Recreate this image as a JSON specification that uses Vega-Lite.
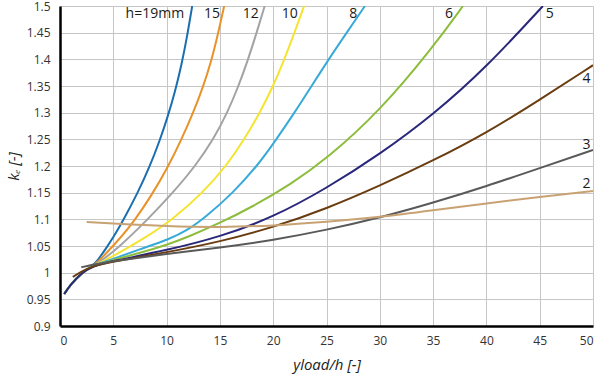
{
  "$schema": "https://vega.github.io/schema/vega-lite/v6.json",
  "width": 533,
  "height": 320,
  "autosize": "none",
  "padding": {"left": 60, "top": 6, "right": 7, "bottom": 48},
  "background": "white",
  "config": {
    "view": {"stroke": null},
    "font": "Open Sans",
    "axis": {"labelFont": "Open Sans", "titleFont": "Open Sans", "labelColor": "#333333", "titleColor": "#222222", "gridColor": "#c6c6c6", "gridWidth": 1, "ticks": false, "domainColor": "#000000", "domainWidth": 2.5, "labelOverlap": false}
  },
  "datasets": {
    "curves": [
      {"h": "19", "x": 0.4, "y": 0.96}, {"h": "19", "x": 1, "y": 0.978}, {"h": "19", "x": 2, "y": 0.999}, {"h": "19", "x": 3, "y": 1.012}, {"h": "19", "x": 3.5, "y": 1.022}, {"h": "19", "x": 4.3, "y": 1.045}, {"h": "19", "x": 5, "y": 1.066}, {"h": "19", "x": 5.9, "y": 1.097}, {"h": "19", "x": 7.3, "y": 1.15}, {"h": "19", "x": 8.4, "y": 1.198}, {"h": "19", "x": 9.4, "y": 1.25}, {"h": "19", "x": 10.1, "y": 1.292}, {"h": "19", "x": 10.8, "y": 1.34}, {"h": "19", "x": 11.4, "y": 1.39}, {"h": "19", "x": 11.9, "y": 1.44}, {"h": "19", "x": 12.4, "y": 1.5},
      {"h": "15", "x": 0.4, "y": 0.96}, {"h": "15", "x": 1, "y": 0.978}, {"h": "15", "x": 2, "y": 0.999}, {"h": "15", "x": 3, "y": 1.012}, {"h": "15", "x": 3.6, "y": 1.021}, {"h": "15", "x": 4.6, "y": 1.042}, {"h": "15", "x": 5.7, "y": 1.066}, {"h": "15", "x": 6.9, "y": 1.095}, {"h": "15", "x": 8.6, "y": 1.145}, {"h": "15", "x": 10.1, "y": 1.197}, {"h": "15", "x": 11.4, "y": 1.25}, {"h": "15", "x": 12.5, "y": 1.3}, {"h": "15", "x": 13.4, "y": 1.347}, {"h": "15", "x": 14.2, "y": 1.397}, {"h": "15", "x": 14.85, "y": 1.45}, {"h": "15", "x": 15.4, "y": 1.5},
      {"h": "12", "x": 0.4, "y": 0.96}, {"h": "12", "x": 1, "y": 0.978}, {"h": "12", "x": 2, "y": 0.999}, {"h": "12", "x": 3, "y": 1.012}, {"h": "12", "x": 3.8, "y": 1.021}, {"h": "12", "x": 5.5, "y": 1.047}, {"h": "12", "x": 8.1, "y": 1.097}, {"h": "12", "x": 10.6, "y": 1.15}, {"h": "12", "x": 12.7, "y": 1.2}, {"h": "12", "x": 14.4, "y": 1.25}, {"h": "12", "x": 15.7, "y": 1.3}, {"h": "12", "x": 16.75, "y": 1.35}, {"h": "12", "x": 17.65, "y": 1.4}, {"h": "12", "x": 18.45, "y": 1.45}, {"h": "12", "x": 19.2, "y": 1.5},
      {"h": "10", "x": 0.4, "y": 0.96}, {"h": "10", "x": 1, "y": 0.978}, {"h": "10", "x": 2, "y": 0.999}, {"h": "10", "x": 3, "y": 1.012}, {"h": "10", "x": 4, "y": 1.021}, {"h": "10", "x": 5, "y": 1.031}, {"h": "10", "x": 7.8, "y": 1.063}, {"h": "10", "x": 10.6, "y": 1.1}, {"h": "10", "x": 13.4, "y": 1.15}, {"h": "10", "x": 15.6, "y": 1.2}, {"h": "10", "x": 17.3, "y": 1.25}, {"h": "10", "x": 18.75, "y": 1.3}, {"h": "10", "x": 20.0, "y": 1.35}, {"h": "10", "x": 21.05, "y": 1.4}, {"h": "10", "x": 22.0, "y": 1.45}, {"h": "10", "x": 22.9, "y": 1.5},
      {"h": "8", "x": 0.4, "y": 0.96}, {"h": "8", "x": 1, "y": 0.978}, {"h": "8", "x": 2, "y": 0.999}, {"h": "8", "x": 3, "y": 1.012}, {"h": "8", "x": 4, "y": 1.019}, {"h": "8", "x": 5, "y": 1.026}, {"h": "8", "x": 7.5, "y": 1.044}, {"h": "8", "x": 10.3, "y": 1.063}, {"h": "8", "x": 12, "y": 1.08}, {"h": "8", "x": 13.6, "y": 1.103}, {"h": "8", "x": 16.25, "y": 1.15}, {"h": "8", "x": 18.5, "y": 1.2}, {"h": "8", "x": 20.3, "y": 1.25}, {"h": "8", "x": 22.0, "y": 1.3}, {"h": "8", "x": 23.6, "y": 1.35}, {"h": "8", "x": 25.2, "y": 1.4}, {"h": "8", "x": 26.9, "y": 1.45}, {"h": "8", "x": 28.6, "y": 1.5},
      {"h": "6", "x": 0.4, "y": 0.96}, {"h": "6", "x": 1, "y": 0.978}, {"h": "6", "x": 2, "y": 0.999}, {"h": "6", "x": 3, "y": 1.012}, {"h": "6", "x": 5, "y": 1.024}, {"h": "6", "x": 7.5, "y": 1.037}, {"h": "6", "x": 10, "y": 1.052}, {"h": "6", "x": 12, "y": 1.067}, {"h": "6", "x": 15, "y": 1.093}, {"h": "6", "x": 18, "y": 1.123}, {"h": "6", "x": 21.6, "y": 1.165}, {"h": "6", "x": 25, "y": 1.213}, {"h": "6", "x": 30, "y": 1.303}, {"h": "6", "x": 35, "y": 1.423}, {"h": "6", "x": 37.8, "y": 1.5},
      {"h": "5", "x": 0.4, "y": 0.96}, {"h": "5", "x": 1, "y": 0.978}, {"h": "5", "x": 2, "y": 0.999}, {"h": "5", "x": 3, "y": 1.012}, {"h": "5", "x": 5, "y": 1.022}, {"h": "5", "x": 10, "y": 1.042}, {"h": "5", "x": 15, "y": 1.067}, {"h": "5", "x": 20, "y": 1.104}, {"h": "5", "x": 25, "y": 1.158}, {"h": "5", "x": 30, "y": 1.222}, {"h": "5", "x": 35, "y": 1.296}, {"h": "5", "x": 40, "y": 1.385}, {"h": "5", "x": 45.3, "y": 1.5},
      {"h": "4", "x": 1.2, "y": 0.992}, {"h": "4", "x": 2, "y": 1.002}, {"h": "4", "x": 3, "y": 1.012}, {"h": "4", "x": 5, "y": 1.021}, {"h": "4", "x": 10, "y": 1.038}, {"h": "4", "x": 15, "y": 1.058}, {"h": "4", "x": 20, "y": 1.085}, {"h": "4", "x": 25, "y": 1.12}, {"h": "4", "x": 30, "y": 1.163}, {"h": "4", "x": 35, "y": 1.21}, {"h": "4", "x": 40, "y": 1.262}, {"h": "4", "x": 45, "y": 1.324}, {"h": "4", "x": 50, "y": 1.389},
      {"h": "3", "x": 2, "y": 1.01}, {"h": "3", "x": 3, "y": 1.015}, {"h": "3", "x": 5, "y": 1.022}, {"h": "3", "x": 10, "y": 1.035}, {"h": "3", "x": 15, "y": 1.047}, {"h": "3", "x": 20, "y": 1.061}, {"h": "3", "x": 25, "y": 1.08}, {"h": "3", "x": 30, "y": 1.103}, {"h": "3", "x": 35, "y": 1.131}, {"h": "3", "x": 40, "y": 1.162}, {"h": "3", "x": 45, "y": 1.196}, {"h": "3", "x": 50, "y": 1.23},
      {"h": "2", "x": 2.5, "y": 1.095}, {"h": "2", "x": 5, "y": 1.092}, {"h": "2", "x": 10, "y": 1.087}, {"h": "2", "x": 15, "y": 1.085}, {"h": "2", "x": 20, "y": 1.088}, {"h": "2", "x": 25, "y": 1.095}, {"h": "2", "x": 30, "y": 1.104}, {"h": "2", "x": 35, "y": 1.117}, {"h": "2", "x": 40, "y": 1.13}, {"h": "2", "x": 45, "y": 1.142}, {"h": "2", "x": 50, "y": 1.153}
    ],
    "labels": [
      {"text": "h=19mm", "x": 8.9, "y": 1.485},
      {"text": "15", "x": 14.25, "y": 1.485},
      {"text": "12", "x": 17.9, "y": 1.485},
      {"text": "10", "x": 21.55, "y": 1.485},
      {"text": "8", "x": 27.5, "y": 1.485},
      {"text": "6", "x": 36.5, "y": 1.485},
      {"text": "5", "x": 45.95, "y": 1.485},
      {"text": "4", "x": 49.4, "y": 1.363},
      {"text": "3", "x": 49.4, "y": 1.239},
      {"text": "2", "x": 49.4, "y": 1.166}
    ]
  },
  "encoding": {
    "x": {"field": "x", "type": "quantitative", "scale": {"domain": [0, 50], "nice": false},
      "axis": {"values": [0, 5, 10, 15, 20, 25, 30, 35, 40, 45, 50], "title": "yload/h [-]", "titleFontSize": 15, "titleFontWeight": "normal", "titleFontStyle": "italic", "titlePadding": 11, "labelFontSize": 12, "labelPadding": 9}},
    "y": {"field": "y", "type": "quantitative", "scale": {"domain": [0.9, 1.5], "nice": false, "zero": false},
      "axis": {"values": [0.9, 0.95, 1, 1.05, 1.1, 1.15, 1.2, 1.25, 1.3, 1.35, 1.4, 1.45, 1.5], "labelExpr": "format(datum.value, '.2~f')", "title": "kₑ [-]", "titleFontSize": 15, "titleFontWeight": "normal", "titleFontStyle": "italic", "titlePadding": 5, "labelFontSize": 12, "labelPadding": 10}}
  },
  "layer": [
    {
      "data": {"name": "curves"},
      "mark": {"type": "line", "interpolate": "basis", "strokeWidth": 2, "clip": true},
      "encoding": {
        "color": {"field": "h", "type": "nominal", "legend": null,
          "scale": {"domain": ["19", "15", "12", "10", "8", "6", "5", "4", "3", "2"],
            "range": ["#1b6fb0", "#e8922a", "#a3a3a3", "#f4e430", "#38aad8", "#8cbd3c", "#28277a", "#6a3d10", "#595959", "#c9a273"]}},
        "order": {"field": "x", "type": "quantitative"}
      }
    },
    {
      "data": {"name": "labels"},
      "mark": {"type": "text", "fontSize": 14, "font": "Open Sans", "color": "#1a1a1a", "baseline": "middle", "align": "center"},
      "encoding": {
        "text": {"field": "text"}
      }
    }
  ]
}
